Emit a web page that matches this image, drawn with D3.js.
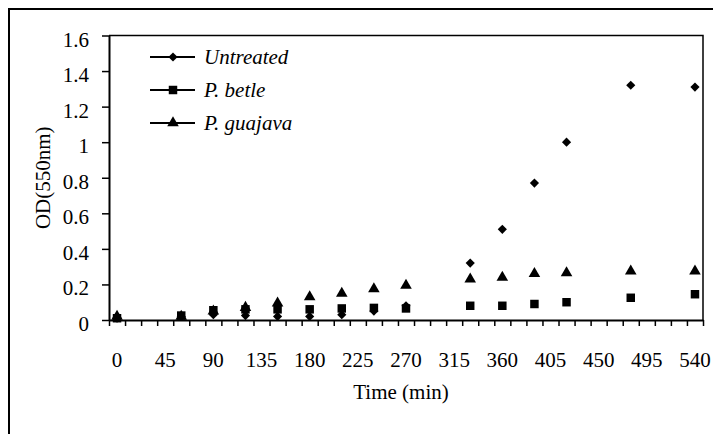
<!DOCTYPE html>
<html>
<head>
<meta charset="utf-8">
<script src="https://cdn.jsdelivr.net/npm/d3@7"></script>
<style>
html,body{margin:0;padding:0;background:#fff;}
svg text{font-family:"Liberation Serif","Times New Roman",serif;fill:#000;}
</style>
</head>
<body>
<svg id="c" width="713" height="434"></svg>
<script>
// ---- data ----
const times    = [0, 60, 90, 120, 150, 180, 210, 240, 270, 330, 360, 390, 420, 480, 540];
const untreated = [0.01, 0.02, 0.03, 0.025, 0.02, 0.02, 0.03, 0.05, 0.08, 0.32, 0.51, 0.77, 1.0, 1.32, 1.31];
const betle     = [0.01, 0.025, 0.055, 0.06, 0.06, 0.06, 0.065, 0.068, 0.065, 0.08, 0.08, 0.09, 0.10, 0.125, 0.145];
const guajava   = [0.02, 0.02, 0.05, 0.07, 0.095, 0.13, 0.15, 0.175, 0.195, 0.23, 0.24, 0.26, 0.265, 0.275, 0.275];
const seriesNames = ["Untreated", "P. betle", "P. guajava"];
const xTickLabels = [0, 45, 90, 135, 180, 225, 270, 315, 360, 405, 450, 495, 540];
const yTickLabels = [0, 0.2, 0.4, 0.6, 0.8, 1, 1.2, 1.4, 1.6];

const svg = d3.select("#c");
const L = 109, R = 703, T = 35.5, B = 320;
const x = d3.scaleLinear().domain([-7.5, 547.5]).range([L, R]);
const y = d3.scaleLinear().domain([0, 1.6]).range([B, T]);
const FS = 21;

// outer frame
svg.append("rect").attr("x", 9).attr("y", 9).attr("width", 720).attr("height", 440)
  .attr("fill", "none").attr("stroke", "#000").attr("stroke-width", 2);

// plot border top/right
svg.append("path").attr("d", `M${L},${T}H${R}V${B}`).attr("fill", "none")
  .attr("stroke", "#000").attr("stroke-width", 1.5);

// x axis ticks (category boundaries every 15 min)
const boundaries = d3.range(-7.5, 548, 15);
const xAxis = svg.append("g").attr("transform", `translate(0,${B})`)
  .call(d3.axisBottom(x).tickValues(boundaries).tickSize(6).tickSizeOuter(0).tickFormat(""));
xAxis.select(".domain").attr("stroke-width", 2);
xAxis.selectAll(".tick line").attr("stroke-width", 1.5);

// x labels
svg.append("g").selectAll("text").data(xTickLabels).join("text")
  .attr("x", d => x(d)).attr("y", 367).attr("text-anchor", "middle")
  .attr("font-size", FS).text(d => d);

// y axis
const yAxis = svg.append("g").attr("transform", `translate(${L},0)`)
  .call(d3.axisLeft(y).tickValues(yTickLabels).tickSize(7).tickSizeOuter(0).tickFormat(""));
yAxis.select(".domain").attr("stroke-width", 2);
yAxis.selectAll(".tick line").attr("stroke-width", 1.5);
svg.append("g").selectAll("text").data(yTickLabels).join("text")
  .attr("x", 89).attr("y", d => y(d) + 11).attr("text-anchor", "end")
  .attr("font-size", FS).text(d => d);

// axis titles
svg.append("text").attr("x", 401).attr("y", 399).attr("text-anchor", "middle")
  .attr("font-size", FS).text("Time (min)");
svg.append("text").attr("transform", `translate(50,${(T + B) / 2}) rotate(-90)`)
  .attr("text-anchor", "middle").attr("font-size", FS).text("OD(550nm)");

// markers
const symbols = [
  { gen: d3.symbol().type(d3.symbolSquare).size(42), rot: 45 },
  { gen: d3.symbol().type(d3.symbolSquare).size(72), rot: 0 },
  { gen: d3.symbol().type(d3.symbolTriangle).size(58), rot: 0 }
];
const allSeries = [untreated, betle, guajava];
allSeries.forEach((vals, i) => {
  svg.append("g").selectAll("path").data(vals).join("path")
    .attr("transform", (d, j) => `translate(${x(times[j])},${y(d)}) rotate(${symbols[i].rot})`)
    .attr("d", symbols[i].gen()).attr("fill", "#000");
});

// legend
const legY = [57, 90, 123];
seriesNames.forEach((name, i) => {
  const g = svg.append("g").attr("transform", `translate(0,${legY[i]})`);
  g.append("line").attr("x1", 150).attr("x2", 195).attr("y1", 0).attr("y2", 0)
    .attr("stroke", "#000").attr("stroke-width", 2);
  g.append("path").attr("transform", `translate(173,0) rotate(${symbols[i].rot})`)
    .attr("d", symbols[i].gen()).attr("fill", "#000");
  g.append("text").attr("x", 204).attr("y", 7).attr("font-size", FS)
    .attr("font-style", "italic").text(name);
});
</script>
</body>
</html>
